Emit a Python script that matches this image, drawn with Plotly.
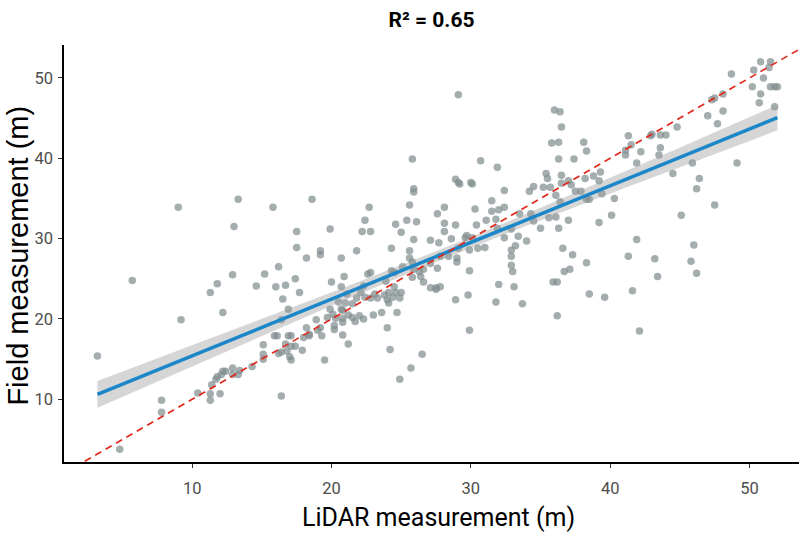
import numpy as np
import plotly.graph_objects as go

lidar = [
    3.2, 4.8, 5.7, 7.8, 7.8, 9.0, 9.2,
    10.4, 11.3, 11.3, 12.0, 11.4, 11.7, 11.8, 12.1, 12.2, 12.4, 12.9, 12.9, 13.3, 13.4,
    14.3, 15.1, 15.1, 15.1, 16.4, 15.9, 16.1, 16.2, 16.4, 16.7, 16.8, 16.9, 17.1, 17.0,
    17.1, 17.4, 17.1, 17.9, 18.0, 18.2, 18.4,
    13.3, 15.8, 13.0, 17.5, 17.5, 18.2, 16.2, 15.2, 12.9, 11.8, 11.3, 14.6, 16.0, 16.7,
    17.4, 17.7, 16.5, 16.9, 12.2, 16.4, 18.6,
    25.9, 25.9, 29.2, 30.1, 32.4, 34.2, 34.5, 35.2, 35.7, 22.7, 25.6, 22.4, 19.9, 22.2,
    22.8, 24.6, 25.0, 25.4, 26.1, 27.6, 28.1, 28.1, 28.1, 28.9, 30.3, 30.4, 31.1, 31.5,
    31.5, 32.0, 32.4, 31.8, 31.9, 32.4, 32.9, 33.5, 34.3, 34.5, 35.0, 35.6, 33.4, 34.0,
    33.2, 32.9, 32.9, 32.9, 33.0, 33.1, 32.0, 31.8, 33.7, 29.9, 29.8, 28.9, 27.8, 27.5,
    26.6, 25.8, 25.9, 25.6, 25.6, 24.3, 25.9, 27.1, 27.7, 28.6, 29.1, 29.6, 29.7, 29.9,
    30.5, 31.0, 30.1, 29.0, 29.0, 28.4, 27.6, 27.8, 27.1, 26.6, 26.3, 26.4, 25.8, 25.1,
    24.5, 24.3, 23.9, 24.5, 24.6, 24.1, 23.8, 23.3, 24.0, 24.4, 24.9, 25.0, 22.8, 22.6,
    20.9, 21.8, 20.7, 19.2, 19.2, 20.0, 20.7, 21.1, 22.3, 22.1, 22.4, 22.8, 23.1, 21.8,
    21.5, 21.0, 20.8, 20.7, 20.5, 19.9, 20.1, 19.7, 20.3, 20.8, 21.2, 21.5, 22.0, 22.3,
    23.0, 23.6, 24.1, 24.7, 27.1, 27.5, 18.9, 20.8, 21.7, 35.9,
    18.4, 19.0, 19.2, 19.3, 20.2, 20.8, 21.2, 19.5, 24.0, 24.2, 26.5, 25.7, 24.9, 29.9,
    20.2, 42.1,
    46.2, 47.5, 45.1, 46.0, 45.8, 46.2, 41.9, 41.3, 43.2, 43.4, 41.6, 39.6, 38.5, 38.3,
    37.3, 36.6, 36.7, 37.1, 36.2, 36.2, 39.2, 40.1, 40.3, 39.4, 38.5, 38.3, 37.9, 37.5,
    37.2, 36.4, 36.1, 36.1, 37.0, 36.3,
    36.0, 36.4, 36.5, 36.3, 36.3, 36.5, 36.5, 37.0, 37.4, 38.1, 38.3, 38.2, 38.8, 39.3,
    39.2, 41.3, 41.5, 41.1, 41.1, 41.9, 42.2, 42.9, 43.0, 43.6, 44.0, 43.6, 43.5, 44.8,
    45.9, 44.5, 46.4, 49.1, 47.0, 47.7, 47.3, 47.5, 48.1, 48.1, 48.7, 50.3, 50.8, 51.5,
    51.4, 51.0, 50.2, 50.8, 50.7, 51.5, 51.8, 52.0, 51.8,
    29.1, 35.8, 25.8, 30.7, 31.9, 28.9, 29.1, 30.0, 35.4, 35.5,
]
field = [
    15.4, 3.8, 24.8, 9.9, 8.4, 33.9, 19.9,
    10.8, 10.7, 9.9, 10.7, 11.8, 12.5, 12.8, 13.1, 13.5, 13.5, 13.9, 13.1, 13.1, 13.6,
    14.1, 15.0, 15.6, 16.8, 10.4, 17.9, 17.9, 15.7, 15.9, 16.9, 16.0, 17.9, 17.9, 15.3,
    14.9, 16.6, 16.6, 16.1, 17.7, 18.9, 18.1,
    34.9, 33.9, 31.5, 30.9, 28.9, 27.6, 26.5, 25.6, 25.5, 24.4, 23.3, 24.1, 24.0, 24.2,
    25.0, 23.3, 22.5, 21.2, 20.8, 19.9, 34.9,
    36.2, 35.8, 36.8, 36.8, 36.0, 35.9, 36.5, 36.4, 36.4, 33.9, 34.2, 32.3, 31.2, 30.9,
    30.9, 31.8, 30.8, 32.3, 32.1, 33.1, 33.9, 31.9, 30.9, 31.7, 33.7, 31.7, 32.3, 34.7,
    33.4, 33.6, 33.9, 32.4, 31.3, 30.1, 31.2, 33.1, 33.1, 32.2, 31.3, 32.6, 30.3, 29.7,
    29.1, 28.6, 27.8, 26.7, 25.9, 24.0, 24.3, 22.1, 21.9, 26.0, 23.0, 22.4, 24.0, 23.7,
    24.6, 25.2, 26.2, 28.5, 27.6, 28.8, 29.9, 29.8, 29.5, 30.0, 28.8, 30.1, 30.4, 28.6,
    28.8, 28.9, 30.1, 27.1, 27.6, 27.8, 26.3, 27.8, 26.9, 26.2, 25.9, 25.3, 27.1, 26.5,
    25.8, 26.0, 24.7, 24.0, 23.3, 23.3, 23.0, 22.6, 22.4, 22.7, 22.6, 23.3, 25.8, 25.6,
    25.3, 28.5, 27.6, 28.5, 28.0, 24.6, 24.0, 23.1, 24.1, 23.3, 22.7, 22.6, 23.1, 22.6,
    21.9, 22.0, 21.1, 21.2, 22.1, 21.2, 20.6, 20.2, 20.1, 20.1, 20.5, 20.2, 20.4, 20.0,
    20.5, 20.8, 22.0, 20.8, 23.9, 23.9, 19.9, 19.6, 19.7, 24.6,
    17.9, 18.6, 18.9, 17.9, 18.7, 18.0, 16.9, 14.9, 18.9, 16.2, 15.6, 13.9, 12.5, 18.6,
    19.2, 18.5,
    36.2, 34.2, 32.9, 29.2, 27.2, 25.7, 29.9, 27.8, 27.5, 25.3, 23.5, 22.7, 23.1, 27.0,
    28.0, 28.8, 25.9, 26.2, 24.6, 20.4, 32.0, 32.9, 35.0, 35.6, 34.9, 34.9, 35.9, 35.9,
    36.7, 34.6, 35.4, 32.7, 32.3, 31.3,
    46.0, 45.8, 43.9, 42.0, 39.9, 37.9, 36.9, 37.2, 39.9, 42.0, 40.9, 37.5, 37.8, 38.3,
    37.2, 42.8, 41.7, 41.0, 40.4, 39.4, 40.8, 42.8, 43.0, 42.9, 42.9, 41.3, 40.4, 43.9,
    39.4, 38.1, 37.5, 39.4, 45.3, 44.3, 47.3, 47.5, 48.0, 45.9, 50.5, 51.0, 52.0, 52.0,
    51.3, 50.0, 48.9, 48.0, 46.9, 48.9, 48.9, 48.9, 46.4,
    47.9, 41.9, 39.9, 39.7, 38.9, 37.4, 37.0, 37.0, 38.1, 37.5,
]
r2_value = 0.65
x_range = [0.8, 53.55]
y_range = [2.2, 54.1]
tick_vals = [10, 20, 30, 40, 50]

x = np.array(lidar, dtype=float)
y = np.array(field, dtype=float)

# linear model + 95% confidence band (like geom_smooth(method = "lm"))
slope, intercept = np.polyfit(x, y, 1)
n = len(x)
xs = np.linspace(x.min(), x.max(), 100)
yhat = intercept + slope * xs
resid = y - (intercept + slope * x)
s = np.sqrt(np.sum(resid ** 2) / (n - 2))
sxx = np.sum((x - x.mean()) ** 2)
se = s * np.sqrt(1.0 / n + (xs - x.mean()) ** 2 / sxx)
tval = 1.968
upper = yhat + tval * se
lower = yhat - tval * se

HFONT = "Roboto, Liberation Sans, sans-serif"
REG = "Liberation Sans, Arial, sans-serif"

fig = go.Figure()
fig.add_trace(go.Scatter(
    x=x, y=y, mode="markers",
    marker=dict(size=7.5, color="rgba(127,140,141,0.7)", line=dict(width=0)),
    hoverinfo="skip", showlegend=False))
fig.add_trace(go.Scatter(x=xs, y=upper, mode="lines", line=dict(width=0),
                         hoverinfo="skip", showlegend=False))
fig.add_trace(go.Scatter(x=xs, y=lower, mode="lines", line=dict(width=0),
                         fill="tonexty", fillcolor="rgba(153,153,153,0.4)",
                         hoverinfo="skip", showlegend=False))
fig.add_trace(go.Scatter(x=xs, y=yhat, mode="lines",
                         line=dict(color="#1b87c9", width=3.5),
                         hoverinfo="skip", showlegend=False))
fig.add_trace(go.Scatter(x=x_range, y=x_range, mode="lines",
                         line=dict(color="#e0281b", width=1.7, dash="7px,5px"),
                         hoverinfo="skip", showlegend=False))

axis_common = dict(
    showgrid=False, zeroline=False, showline=True, linecolor="black", linewidth=1.5,
    ticks="outside", ticklen=4, tickwidth=1, tickcolor="#333333",
    tickvals=tick_vals, tickfont=dict(family=HFONT, size=16.5, color="#4d4d4d"),
)
fig.update_xaxes(range=x_range, ticklabelstandoff=6, **axis_common)
fig.update_yaxes(range=y_range, ticklabelstandoff=2, **axis_common)

fig.update_layout(
    width=799, height=534,
    margin=dict(l=64, r=0, t=45, b=72),
    plot_bgcolor="white", paper_bgcolor="white",
    title=dict(text=f"R² = {r2_value:.2f}", x=0.5, xref="paper",
               y=1 - 20 / 534, yref="container", yanchor="middle", xanchor="center",
               font=dict(family=HFONT, size=21, color="black", weight="bold")),
    annotations=[
        dict(text="LiDAR measurement (m)", x=0.509, y=-0.132, xref="paper", yref="paper",
             showarrow=False, xanchor="center", yanchor="middle",
             font=dict(family=HFONT, size=25, color="black")),
        dict(text="Field measurement (m)", x=-0.062, y=0.496, xref="paper", yref="paper",
             showarrow=False, xanchor="center", yanchor="middle", textangle=-90,
             font=dict(family=REG, size=29, color="black")),
    ],
)

fig.write_html(
    "out.html",
    config={"displayModeBar": False},
    post_script="document.body.style.margin='0px';document.body.style.overflow='hidden';",
)
